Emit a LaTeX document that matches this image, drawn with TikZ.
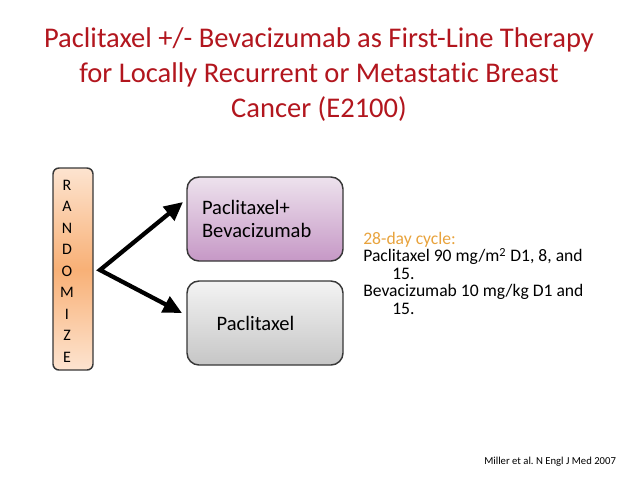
\documentclass[tikz,border=0pt]{standalone}
\usepackage{fontspec}
\setmainfont{Carlito}[Ligatures=NoCommon]
\usetikzlibrary{arrows.meta}
\definecolor{titlered}{RGB}{178,22,30}
\definecolor{cycleorange}{RGB}{232,163,61}
\definecolor{edgegray}{RGB}{55,55,55}
\definecolor{peachlight}{RGB}{253,228,208}
\definecolor{peachdark}{RGB}{248,176,118}
\definecolor{lilaclight}{RGB}{237,226,237}
\definecolor{lilacdark}{RGB}{198,152,198}
\definecolor{greylight}{RGB}{243,243,243}
\definecolor{greydark}{RGB}{198,198,198}
\begin{document}
\frenchspacing
\begin{tikzpicture}[
    x=0.75pt, y=-0.75pt,
    title/.style={anchor=north, align=center, inner sep=0pt, text=titlered, font=\fontsize{21.4}{26.5}\selectfont},
    randframe/.style={draw=edgegray, line width=1.1pt, rounded corners=4.5pt, minimum width=30pt, minimum height=151.5pt, top color=peachlight, bottom color=peachlight, middle color=peachdark},
    randletters/.style={align=center, inner sep=0pt, font=\fontsize{12}{16.1}\selectfont},
    arm/.style={line width=3.2pt, line join=miter, {Triangle[length=14pt,width=13pt]}-{Triangle[length=14pt,width=13pt]}},
    box/.style={draw=edgegray, line width=1.1pt, rounded corners=9pt, minimum width=117pt, minimum height=63pt, text width=94.5pt, inner xsep=11.25pt, align=left, font=\fontsize{15.4}{17.5}\selectfont},
    cycle/.style={anchor=north west, align=left, inner sep=0pt, font=\fontsize{13.2}{13.1}\selectfont},
    cite/.style={anchor=base west, inner sep=0pt, font=\fontsize{8}{9.6}\selectfont}
]
\useasboundingbox (0,0) rectangle (638,479);

% Title
\node[title] (title) at (319,27) {Paclitaxel +/- Bevacizumab as First-Line Therapy\\for Locally Recurrent or Metastatic Breast\\Cancer (E2100)};

% Randomize
\node[randframe] (randframe) at (73,269) {};
\node[randletters] (rand) at (67,271) {R\\A\\N\\D\\O\\M\\I\\Z\\E};

% Arms
\node[box, top color=lilaclight, bottom color=lilacdark] (combo) at (265,219) {Paclitaxel+\\Bevacizumab};
\node[box, top color=greylight, bottom color=greydark] (mono) at (265,323) {\hspace*{11pt}Paclitaxel};

% Arrows
\coordinate (fork) at (100,270);
\coordinate (tipA) at (183,202);
\coordinate (tipB) at (182,313);
\draw[arm] (tipA) -- (fork) -- (tipB);

% Schedule
\node[cycle] (cycle) at (363,232) {\textcolor{cycleorange}{28-day cycle:}\\Paclitaxel 90 mg/m\textsuperscript{2} D1, 8, and\\\hspace*{21.75pt}15.\\Bevacizumab 10 mg/kg D1 and\\\hspace*{21.75pt}15.};

% Reference
\node[cite] (ref) at (484,464) {Miller et al. N Engl J Med 2007};
\end{tikzpicture}
\end{document}
